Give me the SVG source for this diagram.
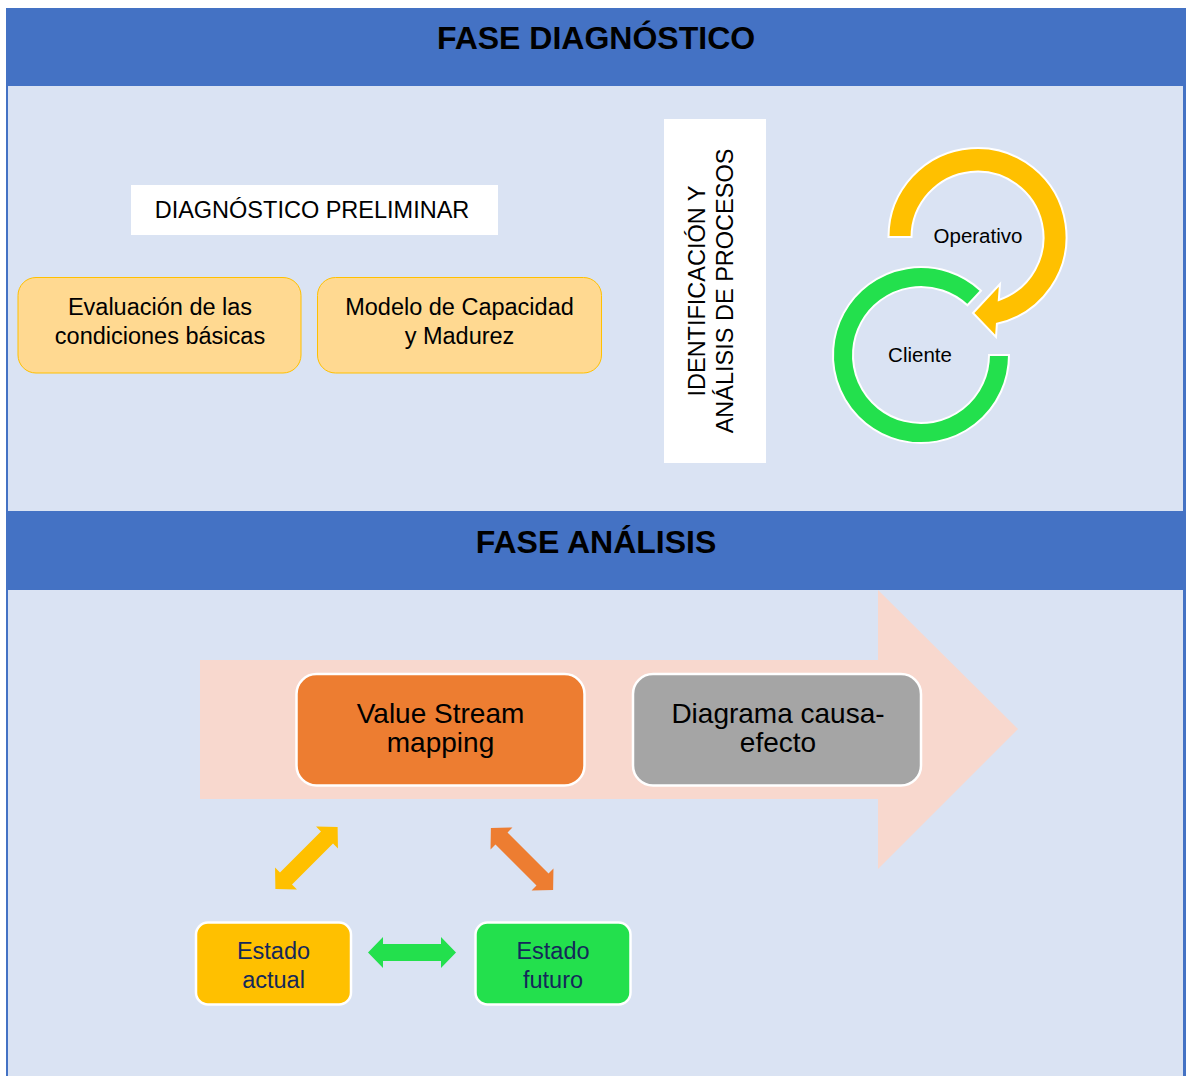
<svg xmlns="http://www.w3.org/2000/svg" width="1186" height="1076" viewBox="0 0 1186 1076">
  <style>
    text { font-family: "Liberation Sans", Arial, sans-serif; fill: #000; }
    .hdr { font-size: 32px; font-weight: bold; text-anchor: middle; }
    .lbl { font-size: 23.5px; text-anchor: middle; }
    .big { font-size: 28px; text-anchor: middle; }
    .ring { font-size: 20.5px; text-anchor: middle; }
    .navy { fill: #14285a; }
    .band { fill: #4472C4; }
    .panel { fill: #DAE3F3; }
    .tan { fill: #FFD991; stroke: #FFC000; stroke-width: 1; }
    .card { stroke: #FFFFFF; stroke-width: 2.5; }
  </style>
  <defs>
    <!-- two-headed block arrow, 88 long, centred on the origin -->
    <path id="dbl" d="M -44 0 L -29 -15.5 L -29 -8.5 L 29 -8.5 L 29 -15.5 L 44 0 L 29 15.5 L 29 8.5 L -29 8.5 L -29 15.5 Z"/>
  </defs>

  <!-- frame, phase bands and panels -->
  <rect x="0" y="0" width="1186" height="1076" fill="#FFFFFF"/>
  <rect class="band" x="6" y="8" width="1180" height="1068"/>
  <rect class="panel" x="8" y="86" width="1175" height="425"/>
  <rect class="panel" x="8" y="590" width="1175" height="486"/>

  <g id="header-diagnostico">
    <text class="hdr" x="596" y="49">FASE DIAGNÓSTICO</text>
  </g>
  <g id="header-analisis">
    <text class="hdr" x="596" y="553">FASE ANÁLISIS</text>
  </g>

  <!-- diagnosis phase -->
  <g id="diagnostico-preliminar">
    <rect x="131" y="185" width="367" height="50" fill="#FFFFFF"/>
    <text class="lbl" x="312" y="218">DIAGNÓSTICO PRELIMINAR</text>
  </g>
  <g id="evaluacion">
    <rect class="tan" x="18" y="277.5" width="283" height="95.5" rx="18"/>
    <text class="lbl" x="160" y="315">Evaluación de las</text>
    <text class="lbl" x="160" y="344">condiciones básicas</text>
  </g>
  <g id="modelo-capacidad">
    <rect class="tan" x="317.5" y="277.5" width="284" height="95.5" rx="18"/>
    <text class="lbl" x="459.5" y="315">Modelo de Capacidad</text>
    <text class="lbl" x="459.5" y="344">y Madurez</text>
  </g>
  <g id="identificacion">
    <rect x="664" y="119" width="102" height="344" fill="#FFFFFF"/>
    <g transform="translate(715,291) rotate(-90)">
      <text class="lbl" x="0" y="-10">IDENTIFICACIÓN Y</text>
      <text class="lbl" x="0" y="18">ANÁLISIS DE PROCESOS</text>
    </g>
  </g>

  <g id="cliente">
    <path d="M 1009 355 A 88 88 0 1 1 981.0 290.7 L 967.4 305.3 A 68 68 0 1 0 989 355 Z" fill="#23E04D" stroke="#FFFFFF" stroke-width="2"/>
    <text class="ring" x="920" y="362">Cliente</text>
  </g>
  <g id="operativo">
    <path d="M 888.5 237 A 89 89 0 1 1 996.9 323.8 L 996 337 L 973 313 L 1000 284 L 998.8 300 A 66 66 0 1 0 911.5 237 Z" fill="#FFC000" stroke="#FFFFFF" stroke-width="2" stroke-linejoin="miter"/>
    <text class="ring" x="978" y="243">Operativo</text>
  </g>

  <!-- analysis phase: process arrow -->
  <g id="flujo">
    <path d="M 200 660 L 878 660 L 878 590 L 1018 729 L 878 869 L 878 799 L 200 799 Z" fill="#F8D8CE"/>
  </g>
  <g id="value-stream-mapping">
    <rect class="card" x="296.5" y="674" width="288" height="111.5" rx="20" fill="#ED7D31"/>
    <text class="big" x="440.5" y="723">Value Stream</text>
    <text class="big" x="440.5" y="752">mapping</text>
  </g>
  <g id="diagrama-causa-efecto">
    <rect class="card" x="633" y="674" width="288" height="111.5" rx="20" fill="#A5A5A5"/>
    <text class="big" x="778" y="723">Diagrama causa-</text>
    <text class="big" x="778" y="752">efecto</text>
  </g>
  <g id="estado-actual">
    <rect class="card" x="196" y="922.5" width="155" height="82" rx="12" fill="#FFC000"/>
    <text class="lbl navy" x="273.5" y="959">Estado</text>
    <text class="lbl navy" x="273.5" y="988">actual</text>
  </g>
  <g id="estado-futuro">
    <rect class="card" x="475.5" y="922.5" width="155" height="82" rx="12" fill="#23E04D"/>
    <text class="lbl navy" x="553" y="959">Estado</text>
    <text class="lbl navy" x="553" y="988">futuro</text>
  </g>

  <!-- two-way links between the mapping step and the states -->
  <g id="connectors">
    <use href="#dbl" transform="translate(306.5,858) rotate(-45)" fill="#FFC000"/>
    <use href="#dbl" transform="translate(522,859) rotate(45)" fill="#ED7D31"/>
    <use href="#dbl" transform="translate(412,952.5)" fill="#23E04D"/>
  </g>
</svg>
